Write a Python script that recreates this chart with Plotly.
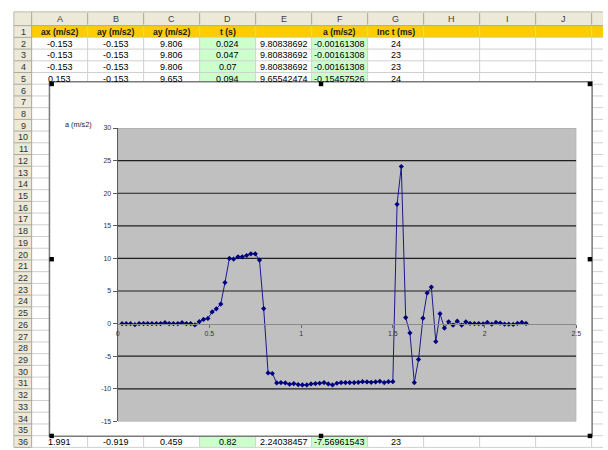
import plotly.graph_objects as go

# ---------------------------------------------------------------------------
# Accelerometer log: sample time (s) and net acceleration |a| - g (m/s2)
# ---------------------------------------------------------------------------
t_s = [
    0.024, 0.047, 0.070, 0.094, 0.117, 0.141, 0.164, 0.187, 0.211, 0.234,
    0.258, 0.281, 0.304, 0.328, 0.351, 0.375, 0.398, 0.421, 0.445, 0.468,
    0.492, 0.515, 0.538, 0.562, 0.585, 0.609, 0.632, 0.656, 0.679, 0.703,
    0.726, 0.750, 0.773, 0.796, 0.820, 0.843, 0.867, 0.890, 0.914, 0.937,
    0.960, 0.984, 1.007, 1.031, 1.054, 1.078, 1.101, 1.125, 1.148, 1.171,
    1.195, 1.218, 1.242, 1.265, 1.289, 1.312, 1.335, 1.359, 1.382, 1.406,
    1.429, 1.453, 1.476, 1.500, 1.523, 1.546, 1.570, 1.593, 1.617, 1.640,
    1.664, 1.687, 1.710, 1.734, 1.757, 1.781, 1.804, 1.828, 1.851, 1.875,
    1.898, 1.921, 1.945, 1.968, 1.992, 2.015, 2.039, 2.062, 2.085, 2.109,
    2.132, 2.156, 2.179, 2.203, 2.226,
]
a_ms2 = [
    -0.0016, -0.0016, -0.0016, -0.155, 0.0, 0.0, 0.0, 0.0, 0.0, 0.0,
    0.15, 0.0, 0.0, 0.0, 0.15, 0.0, 0.0, -0.2, 0.3, 0.65,
    0.8, 1.8, 2.27, 3.0, 6.3, 10.0, 9.9, 10.25, 10.25, 10.45,
    10.7, 10.7, 9.75, 2.3, -7.5696, -7.65, -9.1, -9.05, -9.1, -9.3,
    -9.2, -9.35, -9.4, -9.4, -9.25, -9.2, -9.15, -9.05, -9.25, -9.4,
    -9.15, -9.05, -9.05, -9.05, -9.05, -9.0, -8.9, -8.95, -9.0, -8.95,
    -8.85, -9.05, -8.9, -8.9, 18.3, 24.1, 0.93, -1.43, -9.04, -5.5,
    0.83, 4.7, 5.6, -2.75, 1.53, -0.68, 0.28, -0.23, 0.38, -0.23,
    0.28, 0.03, 0.0, 0.0, -0.03, 0.18, -0.08, 0.18, 0.08, -0.08,
    -0.08, -0.13, 0.03, 0.18, 0.03,
]

# Worksheet contents that stay visible around the chart
col_letters = ["A", "B", "C", "D", "E", "F", "G", "H", "I", "J", "K"]
header_cells = ["ax (m/s2)", "ay (m/s2)", "ay (m/s2)", "t (s)", "", "a (m/s2)", "Inc t (ms)"]
ax_cells = ["-0.153", "-0.153", "-0.153", "0.153"]
ay_cells = ["-0.153", "-0.153", "-0.153", "-0.153"]
az_cells = ["9.806", "9.806", "9.806", "9.653"]
t_cells = ["0.024", "0.047", "0.07", "0.094"]
mag_cells = ["9.80838692", "9.80838692", "9.80838692", "9.65542474"]
a_cells = ["-0.00161308", "-0.00161308", "-0.00161308", "-0.15457526"]
inc_cells = ["24", "23", "23", "24"]
row36_cells = ["1.991", "-0.919", "0.459", "0.82", "2.24038457", "-7.56961543", "23"]

x_ticks = [0, 0.5, 1, 1.5, 2, 2.5]
x_tick_text = ["0", "0.5", "1", "1.5", "2", "2.5"]
y_ticks = [-15, -10, -5, 0, 5, 10, 15, 20, 25, 30]
y_tick_text = ["-15", "-10", "-5", "0", "5", "10", "15", "20", "25", "30"]
y_grid = [-10, -5, 5, 10, 15, 20, 25]
X_RANGE = [0, 2.5]
Y_RANGE = [-15, 30]

# ---------------------------------------------------------------------------
# Page geometry (pixels)
# ---------------------------------------------------------------------------
W, H = 608, 450
FONT = "Liberation Sans, Arial, sans-serif"


def px(x):
    return x / W


def py(y):
    return 1 - y / H


RH_X0, COL0, COL_W = 12, 30, 56.65
HDR_Y0, ROW0, ROW_H = 8, 22, 11.9
HDR_FILL, HDR_LINE, GRID = "#ECE9D8", "#ACA899", "#D0D0D0"


def col_edge(k):
    return COL0 + k * COL_W


def col_mid(k):
    return COL0 + (k + 0.5) * COL_W


def row_top(n):
    return ROW0 + (n - 1) * ROW_H


def row_mid(n):
    return ROW0 + (n - 0.5) * ROW_H


CH_X0, CH_X1, CH_Y0, CH_Y1 = 48, 597, 79, 439     # embedded chart object
PA_X0, PA_X1, PA_Y0, PA_Y1 = 117, 581, 126, 424   # plot area

shapes = []


def rect(x0, y0, x1, y1, fill, line=None, lw=0):
    shapes.append(dict(type="rect", xref="paper", yref="paper", layer="below",
                       x0=px(x0), x1=px(x1), y0=py(y1), y1=py(y0),
                       fillcolor=fill, line=dict(color=line or fill, width=lw)))


def hline(y, x0, x1, color, lw=1):
    shapes.append(dict(type="line", xref="paper", yref="paper", layer="below",
                       x0=px(x0), x1=px(x1), y0=py(y), y1=py(y),
                       line=dict(color=color, width=lw)))


def vline(x, y0, y1, color, lw=1):
    shapes.append(dict(type="line", xref="paper", yref="paper", layer="below",
                       x0=px(x), x1=px(x), y0=py(y0), y1=py(y1),
                       line=dict(color=color, width=lw)))


# header strips
rect(RH_X0, HDR_Y0, W, ROW0, HDR_FILL)
rect(RH_X0, ROW0, COL0, H, HDR_FILL)
# coloured cells
rect(COL0, row_top(1), W, row_top(2), "#FFCC00")
for k in (3, 5):
    rect(col_edge(k), row_top(2), col_edge(k + 1), row_top(6), "#CCFFCC")
    rect(col_edge(k), row_top(36), col_edge(k + 1), row_top(37), "#CCFFCC")
# cell grid
for n in range(2, 38):
    hline(row_top(n), COL0, W, GRID)
    hline(row_top(n), RH_X0, COL0, HDR_LINE)
for k in range(1, 12):
    vline(col_edge(k), ROW0, H, GRID)
    vline(col_edge(k), HDR_Y0 + 1, ROW0 - 1, HDR_LINE)
hline(HDR_Y0, RH_X0, W, "#BDBAAA")
hline(ROW0, RH_X0, W, HDR_LINE)
vline(COL0, HDR_Y0, H, HDR_LINE)
vline(RH_X0, HDR_Y0, H, "#BDBAAA")

# chart object and its selection handles
rect(CH_X0, CH_Y0, CH_X1, CH_Y1, "white", "#7A7A7A", 1.5)
xm, ym = (CH_X0 + CH_X1) / 2, (CH_Y0 + CH_Y1) / 2
for hx, hy in [(CH_X0, CH_Y0), (xm - 2, CH_Y0), (CH_X1 - 4.5, CH_Y0),
               (CH_X0, ym - 2), (CH_X1 - 4.5, ym - 2),
               (CH_X0, CH_Y1 - 2.5), (xm - 2, CH_Y1 - 2.5), (CH_X1 - 4.5, CH_Y1 - 2.5)]:
    rect(hx, hy, hx + 4.5, hy + 4.5, "black")

# plot area (gray) and major gridlines, in data coordinates
shapes.append(dict(type="rect", xref="x", yref="y", layer="below",
                   x0=X_RANGE[0], x1=X_RANGE[1], y0=Y_RANGE[0], y1=Y_RANGE[1],
                   fillcolor="#C0C0C0", line=dict(color="#A8A8A8", width=1)))
for g in y_grid:
    shapes.append(dict(type="line", xref="x", yref="y", layer="below",
                       x0=X_RANGE[0], x1=X_RANGE[1], y0=g, y1=g,
                       line=dict(color="#1E1E1E", width=1.2)))

# ---------------------------------------------------------------------------
# Text: column letters, row numbers and cell values
# ---------------------------------------------------------------------------
annotations = []


def text(x, y, s, size=9, color="black", bold=False, xanchor="center"):
    annotations.append(dict(xref="paper", yref="paper", x=px(x), y=py(y), text=f"<b>{s}</b>" if bold else s,
                            showarrow=False, xanchor=xanchor, yanchor="middle",
                            font=dict(family=FONT, size=size, color=color)))


for k, c in enumerate(col_letters):
    if col_mid(k) < W:
        text(col_mid(k), (HDR_Y0 + ROW0) / 2 + 0.5, c, color="#404040")
for n in list(range(1, 36)) + [36]:
    text((RH_X0 + COL0) / 2 + 0.5, row_mid(n) + 0.5, str(n), color="#303030")

for k, s in enumerate(header_cells):
    if s:
        text(col_mid(k), row_mid(1) + 0.5, s, size=8.6, bold=True, color="#1A1A1A")
columns = [ax_cells, ay_cells, az_cells, t_cells, mag_cells, a_cells, inc_cells]
for k, col in enumerate(columns):
    for r, s in enumerate(col):
        text(col_mid(k), row_mid(r + 2) + 0.5, s)
for k, s in enumerate(row36_cells):
    text(col_mid(k), row_mid(36) + 0.5, s)

# chart axis caption
text(62, 122, "a (m/s2)", size=7.3, color="#222222", xanchor="left")

# ---------------------------------------------------------------------------
# Figure
# ---------------------------------------------------------------------------
y_dom = [py(PA_Y1), py(PA_Y0)]
zero_pos = y_dom[0] + (0 - Y_RANGE[0]) / (Y_RANGE[1] - Y_RANGE[0]) * (y_dom[1] - y_dom[0])

fig = go.Figure(go.Scatter(
    x=t_s, y=a_ms2, mode="lines+markers",
    line=dict(color="#1A1A8C", width=1),
    marker=dict(symbol="diamond", size=4, color="#000080"),
    hoverinfo="skip", cliponaxis=False,
))

fig.update_layout(
    width=W, height=H, autosize=False,
    margin=dict(l=0, r=0, t=0, b=0, pad=0),
    paper_bgcolor="white", plot_bgcolor="rgba(0,0,0,0)",
    showlegend=False,
    shapes=shapes, annotations=annotations,
    xaxis=dict(domain=[px(PA_X0), px(PA_X1)], range=X_RANGE, anchor="free", position=zero_pos,
               tickvals=x_ticks, ticktext=x_tick_text, showgrid=False, zeroline=False,
               showline=True, linecolor="#8A8A8A", linewidth=1,
               ticks="outside", ticklen=3, tickcolor="#6A6A6A",
               tickfont=dict(family=FONT, size=7, color="#333333")),
    yaxis=dict(domain=y_dom, range=Y_RANGE, anchor="x",
               tickvals=y_ticks, ticktext=y_tick_text, showgrid=False, zeroline=False,
               showline=True, linecolor="#5A5A5A", linewidth=1,
               ticks="outside", ticklen=4, tickcolor="#5A5A5A",
               tickfont=dict(family=FONT, size=7, color="#333333")),
)

fig.write_html("out.html")
